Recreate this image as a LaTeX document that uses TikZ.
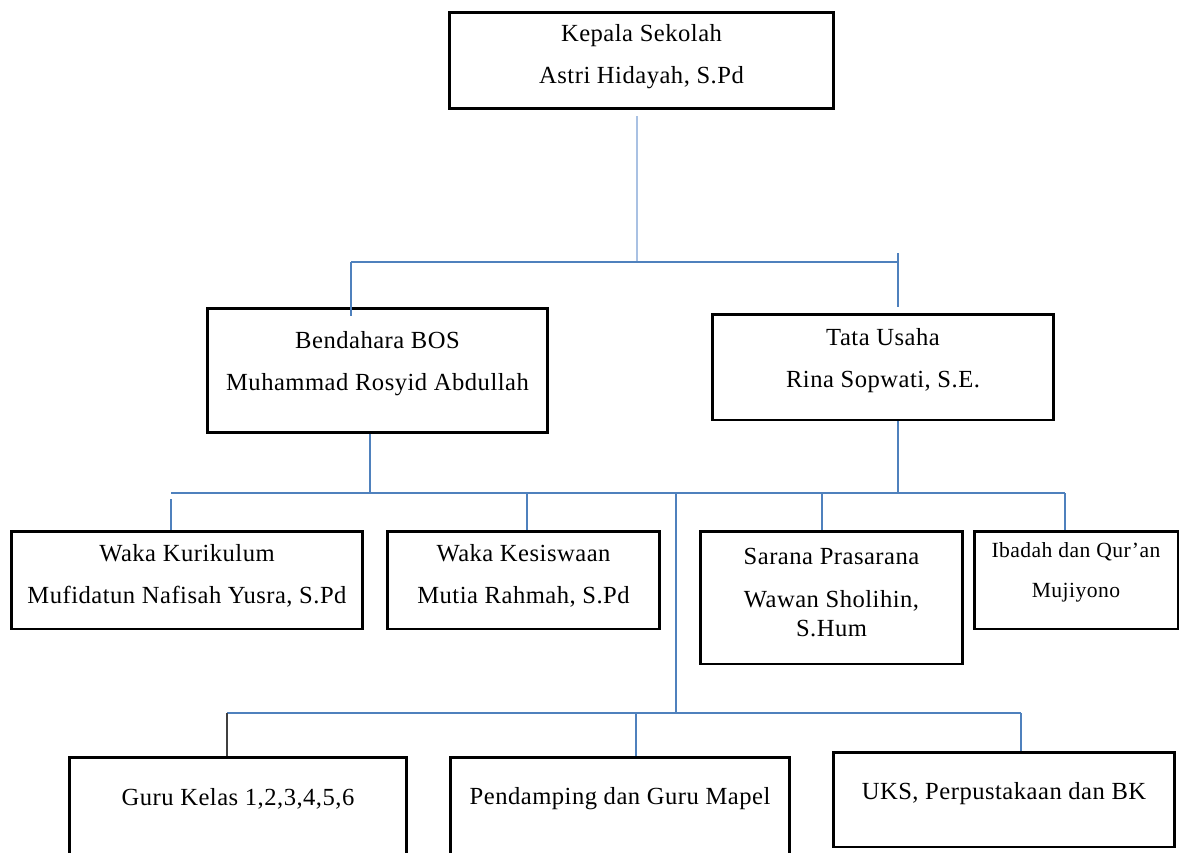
\documentclass[tikz,border=0pt]{standalone}
\usepackage{fontspec}
\setmainfont[LetterSpace=2.0]{Liberation Serif}
\usetikzlibrary{calc}
\definecolor{linkblue}{HTML}{4F81BD}
\definecolor{linklight}{HTML}{A9C1E3}
\begin{document}
\begin{tikzpicture}[x=0.02cm,y=-0.02cm,
  box/.style={draw=black,line width=1.7pt,inner sep=0pt,fill=white},
  lab/.style={align=center,inner sep=0pt,font=\fontsize{14}{16.8}\selectfont},
  conn/.style={draw=linkblue,line width=0.9pt},
  connlt/.style={draw=linklight,line width=1.1pt},
  connblk/.style={draw=black!75,line width=0.9pt}]
\useasboundingbox (0,0) rectangle (1183,852);
\clip (0,0) rectangle (1183,852);
% boxes
\node[box,minimum width=7.7cm,minimum height=1.94cm] (kep) at (641.5,60.5) {};
\node[box,minimum width=6.82cm,minimum height=2.5cm] (bend) at (377.5,370.5) {};
\node[box,minimum width=6.84cm,minimum height=2.12cm] (tata) at (883,367) {};
\node[box,minimum width=7.04cm,minimum height=1.96cm] (kur) at (187,580) {};
\node[box,minimum width=5.46cm,minimum height=1.96cm] (kes) at (523.5,580) {};
\node[box,minimum width=5.26cm,minimum height=2.66cm] (sar) at (831.5,597.5) {};
\node[box,minimum width=4.08cm,minimum height=1.96cm] (iba) at (1076,580) {};
\node[box,minimum width=6.76cm,minimum height=2.46cm] (guru) at (238,818.5) {};
\node[box,minimum width=6.8cm,minimum height=2.46cm] (pend) at (620,818.5) {};
\node[box,minimum width=6.84cm,minimum height=1.9cm] (uks) at (1004,799.5) {};
% texts
\node[lab] (kepT) at (641.5,57) {Kepala Sekolah\\[7.1pt]Astri Hidayah, S.Pd};
\node[lab] (bendT) at (377.5,364) {Bendahara BOS\\[7.1pt]Muhammad Rosyid Abdullah};
\node[lab] (tataT) at (883,361) {Tata Usaha\\[7.1pt]Rina Sopwati, S.E.};
\node[lab] (kurT) at (187,576) {Waka Kurikulum\\[7.1pt]Mufidatun Nafisah Yusra, S.Pd};
\node[lab] (kesT) at (523.5,576) {Waka Kesiswaan\\[7.1pt]Mutia Rahmah, S.Pd};
\node[lab] (sarT) at (831.5,592.5) {Sarana Prasarana\\[8.2pt]Wawan Sholihin,\\[-0.3pt]S.Hum};
\node[lab,font=\fontsize{12.3}{14.8}\selectfont] (ibaT) at (1076,572) {Ibadah dan Qur'an\\[8pt]Mujiyono};
\node[lab] (guruT) at (238,799) {Guru Kelas 1,2,3,4,5,6};
\node[lab] (pendT) at (620,799) {Pendamping dan Guru Mapel};
\node[lab] (uksT) at (1004,794) {UKS, Perpustakaan dan BK};
% level 1
\coordinate (j1) at (637,262); \coordinate (a1) at (351,262); \coordinate (a2) at (898,262);
\draw[connlt,shorten <=0.12cm] (kep.south -| j1) -- (j1);
\draw[conn] (a1) -- (a2);
\draw[conn,shorten >=-0.18cm] (a1) -- (a1 |- bend.north);
\draw[conn,shorten <=-0.18cm,shorten >=0.12cm] (a2) -- (a2 |- tata.north);
% level 2
\coordinate (c1) at (171,493); \coordinate (c2) at (1065,493);
\coordinate (b2) at (370,493); \coordinate (t2) at (898,493);
\coordinate (d2) at (527,493); \coordinate (d3) at (822,493); \coordinate (d4) at (676,493);
\draw[conn] (c1) -- (c2);
\draw[conn] (bend.south -| b2) -- (b2); \draw[conn] (tata.south -| t2) -- (t2);
\draw[conn,shorten <=0.12cm] (c1) -- (c1 |- kur.north);
\foreach \c/\n in {d2/kes,d3/sar,c2/iba} \draw[conn] (\c) -- (\c |- \n.north);
% level 3
\coordinate (e0) at (676,713); \coordinate (e1) at (227,713); \coordinate (e2) at (1021,713); \coordinate (e3) at (636,713);
\draw[conn] (d4) -- (e0); \draw[conn] (e1) -- (e2);
\draw[connblk] (e1) -- (e1 |- guru.north);
\draw[conn] (e3) -- (e3 |- pend.north); \draw[conn] (e2) -- (e2 |- uks.north);
\end{tikzpicture}
\end{document}
